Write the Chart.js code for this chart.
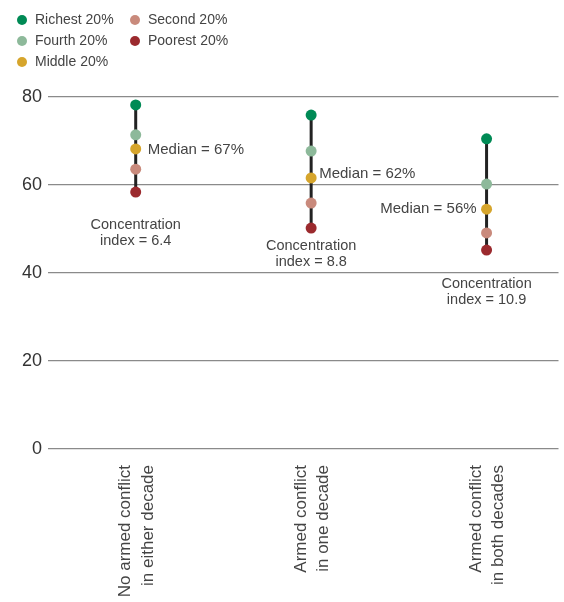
<!DOCTYPE html>
<html>
<head>
<meta charset="utf-8">
<script src="https://cdn.jsdelivr.net/npm/chart.js@4.4.1/dist/chart.umd.min.js"></script>
<style>
  html, body { margin: 0; padding: 0; background: #fff; }
  #wrap { position: relative; width: 564px; height: 602px; }
  #legend { position: absolute; left: 17px; top: 9px; font-family: "Liberation Sans", Arial, sans-serif; font-size: 14px; color: #444; }
  .col { position: absolute; top: 0; white-space: nowrap; }
  .item { height: 21px; line-height: 21px; }
  .dot { display: inline-block; width: 10px; height: 10px; border-radius: 50%; margin-right: 8px; vertical-align: -1px; }
</style>
</head>
<body>
<div id="wrap">
  <canvas id="chart" width="564" height="602"></canvas>
  <div id="legend"></div>
</div>
<script>
// Данные
const categories = [
    ['No armed conflict', 'in either decade'],
    ['Armed conflict', 'in one decade'],
    ['Armed conflict', 'in both decades']
];
const richest = [78.2, 75.9, 70.5];
const fourth = [71.4, 67.7, 60.2];
const middle = [68.2, 61.6, 54.5];
const second = [63.6, 55.9, 49.1];
const poorest = [58.4, 50.2, 45.2];
const medians = [67, 62, 56];
const concentration = [6.4, 8.8, 10.9];
const yTicks = [0, 20, 40, 60, 80];

const quintiles = [
    { label: 'Richest 20%', data: richest, color: '#008a55' },
    { label: 'Fourth 20%', data: fourth, color: '#8db99a' },
    { label: 'Middle 20%', data: middle, color: '#d6a52c' },
    { label: 'Second 20%', data: second, color: '#c98a7c' },
    { label: 'Poorest 20%', data: poorest, color: '#9b2a2e' }
];

// Легенда (две колонки)
const legend = document.getElementById('legend');
const columns = [[0, 1, 2], [3, 4]];
columns.forEach((idx, c) => {
    const col = document.createElement('div');
    col.className = 'col';
    col.style.left = (c * 113) + 'px';
    idx.forEach(i => {
        const q = quintiles[i];
        const item = document.createElement('div');
        item.className = 'item';
        item.innerHTML = '<span class="dot" style="background:' + q.color + '"></span>' + q.label;
        col.appendChild(item);
    });
    legend.appendChild(col);
});

// Вертикальные линии: от беднейших к богатейшим, с разрывами
const rangeLine = [];
categories.forEach((_, i) => {
    rangeLine.push({ x: i, y: poorest[i] });
    rangeLine.push({ x: i, y: richest[i] });
    rangeLine.push({ x: i, y: null });
});

const datasets = quintiles.map((q, k) => ({
    label: q.label,
    data: q.data.map((v, i) => ({ x: i, y: v })),
    showLine: false,
    pointRadius: 5.5,
    pointHoverRadius: 5.5,
    pointBackgroundColor: q.color,
    pointBorderWidth: 0,
    order: k
}));
datasets.push({
    label: 'range',
    data: rangeLine,
    showLine: true,
    spanGaps: false,
    borderColor: '#222',
    borderWidth: 3,
    pointRadius: 0,
    order: 10
});

// Подписи медианы и индекса концентрации
const annotations = {
    id: 'annotations',
    afterDatasetsDraw(chart) {
        const ctx = chart.ctx;
        const xs = chart.scales.x;
        const ys = chart.scales.y;
        const medianPos = [{ dx: 12, dy: 1, align: 'left' }, { dx: 8, dy: -4, align: 'left' }, { dx: -10, dy: 0, align: 'right' }];
        const concPos = [33, 18, 34];
        ctx.save();
        ctx.fillStyle = '#444';
        ctx.textBaseline = 'middle';
        categories.forEach((_, i) => {
            const x = xs.getPixelForValue(i);
            const p = medianPos[i];
            ctx.font = '15px "Liberation Sans", Arial, sans-serif';
            ctx.textAlign = p.align;
            ctx.fillText('Median = ' + medians[i] + '%', x + p.dx, ys.getPixelForValue(middle[i]) + p.dy);
            const y0 = ys.getPixelForValue(poorest[i]) + concPos[i];
            ctx.font = '14.5px "Liberation Sans", Arial, sans-serif';
            ctx.textAlign = 'center';
            ctx.fillText('Concentration', x, y0);
            ctx.fillText('index = ' + concentration[i], x, y0 + 16);
        });
        ctx.restore();
    }
};

new Chart(document.getElementById('chart').getContext('2d'), {
    type: 'scatter',
    data: { datasets: datasets },
    options: {
        responsive: false,
        animation: false,
        layout: { padding: { top: 97, right: 0, left: 0, bottom: 0 } },
        scales: {
            x: {
                type: 'linear',
                min: -0.5,
                max: 2.41,
                afterBuildTicks: function(scale) {
                    scale.ticks = categories.map((_, i) => ({ value: i }));
                },
                afterFit: function(scale) { scale.height = 153; },
                grid: { display: false },
                border: { display: false },
                ticks: {
                    minRotation: 90,
                    maxRotation: 90,
                    padding: 8,
                    labelOffset: -10,
                    color: '#444',
                    font: { family: '"Liberation Sans", Arial, sans-serif', size: 17, lineHeight: 1.3 },
                    callback: function(value) { return categories[value] || ''; }
                }
            },
            y: {
                min: 0,
                max: 80,
                afterBuildTicks: function(scale) {
                    scale.ticks = yTicks.map(v => ({ value: v }));
                },
                afterFit: function(scale) { scale.width = 48; },
                grid: { color: '#8a8a8a', lineWidth: 1.2, drawTicks: false },
                border: { display: false },
                ticks: {
                    padding: 6,
                    color: '#333',
                    font: { family: '"Liberation Sans", Arial, sans-serif', size: 18 }
                }
            }
        },
        plugins: {
            legend: { display: false },
            tooltip: { enabled: false }
        }
    },
    plugins: [annotations]
});
</script>
</body>
</html>
